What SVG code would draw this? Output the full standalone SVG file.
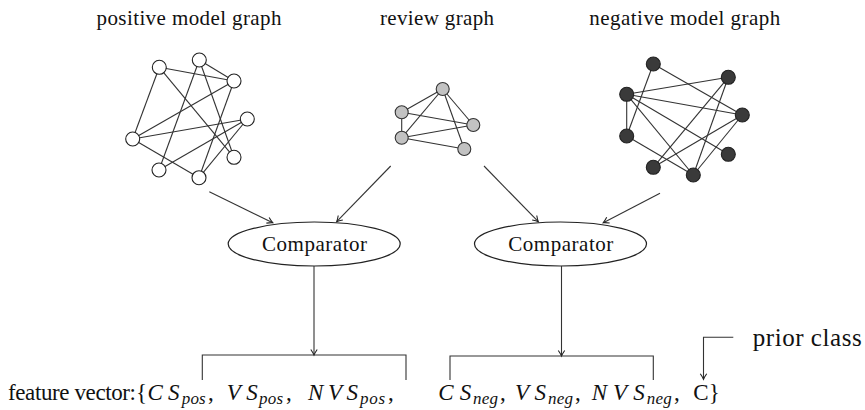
<svg xmlns="http://www.w3.org/2000/svg" width="865" height="410" viewBox="0 0 865 410">
<style>
.t{font-family:"Liberation Serif","Times New Roman","DejaVu Serif",serif;fill:#111}
.title{font-size:21px;text-anchor:middle}
.cmp{font-size:21px;text-anchor:middle}
.big{font-size:23px}
.it{font-style:italic}
.sub{font-size:17px;font-style:italic}
.e{stroke:#333;stroke-width:1.1;fill:none}
.pn{fill:#fff;stroke:#222;stroke-width:1.1}
.rn{fill:#c2c2c2;stroke:#333;stroke-width:1.1}
.nn{fill:#3a3a3a;stroke:#222;stroke-width:1.1}
.c{stroke:#333;stroke-width:1.1;fill:none}
.ell{fill:#fff;stroke:#222;stroke-width:1.2}
</style>
<defs>
<marker id="ar" markerWidth="10" markerHeight="10" refX="8" refY="5" orient="auto" markerUnits="userSpaceOnUse">
<path d="M2.5,1.8 Q6,4.2 8,5 Q6,5.8 2.5,8.2" fill="none" stroke="#222" stroke-width="1.1"/>
</marker>
</defs>

<g id="title-positive"><text class="t title" x="189" y="25" textLength="185">positive model graph</text></g>
<g id="title-review"><text class="t title" x="437" y="25" textLength="114">review graph</text></g>
<g id="title-negative"><text class="t title" x="684.7" y="25" textLength="191">negative model graph</text></g>

<g id="positive-graph">
<g class="e">
<line x1="159.3" y1="67.3" x2="234" y2="81"/>
<line x1="159.3" y1="67.3" x2="132.7" y2="139"/>
<line x1="159.3" y1="67.3" x2="234" y2="157.3"/>
<line x1="199.3" y1="60" x2="159" y2="170"/>
<line x1="199.3" y1="60" x2="234" y2="81"/>
<line x1="199.3" y1="60" x2="234" y2="157.3"/>
<line x1="234" y1="81" x2="132.7" y2="139"/>
<line x1="234" y1="81" x2="199" y2="177.7"/>
<line x1="247.3" y1="119" x2="132.7" y2="139"/>
<line x1="247.3" y1="119" x2="159" y2="170"/>
<line x1="247.3" y1="119" x2="199" y2="177.7"/>
<line x1="132.7" y1="139" x2="199" y2="177.7"/>
</g>
<circle class="pn" cx="159.3" cy="67.3" r="7"/>
<circle class="pn" cx="199.3" cy="60" r="7"/>
<circle class="pn" cx="234" cy="81" r="7"/>
<circle class="pn" cx="247.3" cy="119" r="7"/>
<circle class="pn" cx="234" cy="157.3" r="7"/>
<circle class="pn" cx="199" cy="177.7" r="7"/>
<circle class="pn" cx="159" cy="170" r="7"/>
<circle class="pn" cx="132.7" cy="139" r="7"/>
</g>

<g id="review-graph">
<g class="e">
<line x1="442.7" y1="89" x2="401.7" y2="112.3"/>
<line x1="442.7" y1="89" x2="401.7" y2="137.7"/>
<line x1="442.7" y1="89" x2="473.3" y2="125"/>
<line x1="442.7" y1="89" x2="464.3" y2="149"/>
<line x1="401.7" y1="112.3" x2="401.7" y2="137.7"/>
<line x1="401.7" y1="112.3" x2="473.3" y2="125"/>
<line x1="401.7" y1="137.7" x2="473.3" y2="125"/>
<line x1="401.7" y1="137.7" x2="464.3" y2="149"/>
</g>
<circle class="rn" cx="442.7" cy="89" r="6.5"/>
<circle class="rn" cx="401.7" cy="112.3" r="6.5"/>
<circle class="rn" cx="401.7" cy="137.7" r="6.5"/>
<circle class="rn" cx="473.3" cy="125" r="6.5"/>
<circle class="rn" cx="464.3" cy="149" r="6.5"/>
</g>

<g id="negative-graph">
<g class="e">
<line x1="653.3" y1="64" x2="626.7" y2="136"/>
<line x1="653.3" y1="64" x2="742.3" y2="115"/>
<line x1="626.7" y1="94.3" x2="728.3" y2="77.3"/>
<line x1="626.7" y1="94.3" x2="742.3" y2="115"/>
<line x1="626.7" y1="94.3" x2="626.7" y2="136"/>
<line x1="626.7" y1="94.3" x2="693.3" y2="175"/>
<line x1="626.7" y1="94.3" x2="728.3" y2="154.3"/>
<line x1="728.3" y1="77.3" x2="653.3" y2="167.3"/>
<line x1="728.3" y1="77.3" x2="693.3" y2="175"/>
<line x1="742.3" y1="115" x2="653.3" y2="167.3"/>
<line x1="742.3" y1="115" x2="693.3" y2="175"/>
<line x1="626.7" y1="136" x2="693.3" y2="175"/>
</g>
<circle class="nn" cx="653.3" cy="64" r="7"/>
<circle class="nn" cx="728.3" cy="77.3" r="7"/>
<circle class="nn" cx="626.7" cy="94.3" r="7"/>
<circle class="nn" cx="742.3" cy="115" r="7"/>
<circle class="nn" cx="626.7" cy="136" r="7"/>
<circle class="nn" cx="728.3" cy="154.3" r="7"/>
<circle class="nn" cx="653.3" cy="167.3" r="7"/>
<circle class="nn" cx="693.3" cy="175" r="7"/>
</g>

<g id="comparator-left">
<ellipse class="ell" cx="314.2" cy="244" rx="86" ry="22"/>
<text class="t cmp" x="314.5" y="250.5" textLength="105">Comparator</text>
</g>
<g id="comparator-right">
<ellipse class="ell" cx="560.5" cy="244" rx="86" ry="22"/>
<text class="t cmp" x="560.8" y="250.5" textLength="105">Comparator</text>
</g>

<g id="connectors" class="c">
<line x1="209.3" y1="191.7" x2="272.7" y2="222.7" marker-end="url(#ar)"/>
<line x1="390.7" y1="166" x2="336.7" y2="221.7" marker-end="url(#ar)"/>
<line x1="484" y1="166" x2="538.3" y2="221.7" marker-end="url(#ar)"/>
<line x1="660" y1="193.3" x2="603.3" y2="222.7" marker-end="url(#ar)"/>
<line x1="314" y1="266" x2="314" y2="355" marker-end="url(#ar)"/>
<line x1="561.5" y1="266" x2="561.5" y2="356" marker-end="url(#ar)"/>
<path d="M202.3,380 V355 H406 V380"/>
<path d="M450,380 V356 H653.3 V380"/>
<path d="M733.3,337.3 H703.5 V379.3" marker-end="url(#ar)"/>
</g>

<g id="prior-class"><text class="t" style="font-size:25px" x="752.7" y="346" textLength="109">prior class</text></g>

<g id="feature-vector" class="t">
<text class="big" x="8" y="400" textLength="128">feature vector:</text>
<text class="big" x="136" y="400">{</text>
<text class="big it" x="147.5" y="400" textLength="32">CS</text>
<text class="sub" x="181.7" y="404" textLength="24">pos</text>
<text class="big" x="208" y="400">,</text>
<text class="big it" x="226.7" y="400" textLength="31">VS</text>
<text class="sub" x="259" y="404" textLength="24">pos</text>
<text class="big" x="286" y="400">,</text>
<text class="big it" x="308" y="400" textLength="50">NVS</text>
<text class="sub" x="360" y="404" textLength="25">pos</text>
<text class="big" x="388" y="400">,</text>
<text class="big it" x="438.3" y="400" textLength="33">CS</text>
<text class="sub" x="473" y="404" textLength="25">neg</text>
<text class="big" x="500" y="400">,</text>
<text class="big it" x="515" y="400" textLength="31">VS</text>
<text class="sub" x="548" y="404" textLength="25">neg</text>
<text class="big" x="575" y="400">,</text>
<text class="big it" x="591.7" y="400" textLength="53">NVS</text>
<text class="sub" x="646.7" y="404" textLength="25">neg</text>
<text class="big" x="674" y="400">,</text>
<text class="big" x="693.3" y="400">C}</text>
</g>
</svg>
